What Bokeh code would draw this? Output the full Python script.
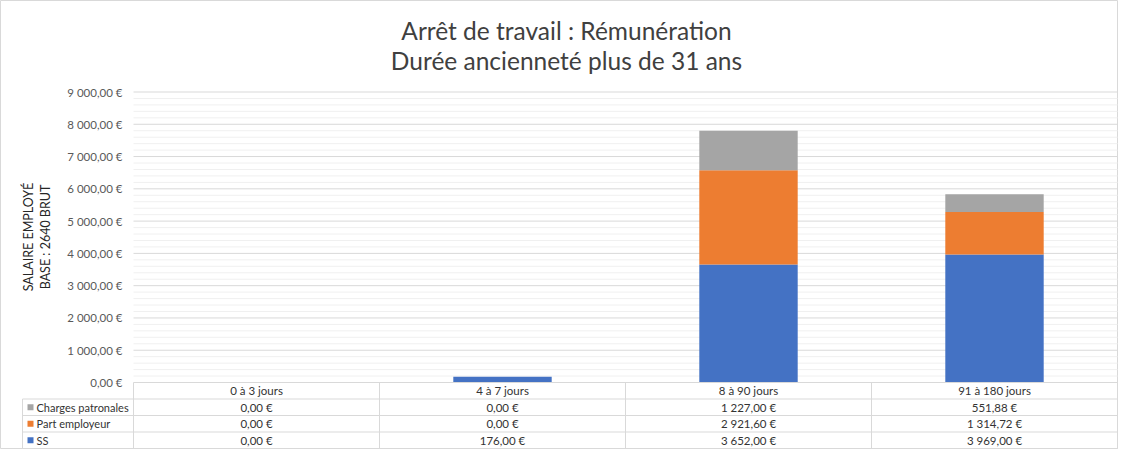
import math
from bokeh.plotting import figure
from bokeh.models import LinearAxis, FixedTicker, Range1d
from bokeh.core.properties import value
from bokeh.embed import file_html
from bokeh.resources import INLINE

# ---------------- data ----------------
categories = ["0 à 3 jours", "4 à 7 jours", "8 à 90 jours", "91 à 180 jours"]
ss = [0.00, 176.00, 3652.00, 3969.00]
part_employeur = [0.00, 0.00, 2921.60, 1314.72]
charges_patronales = [0.00, 0.00, 1227.00, 551.88]
series_names = ["SS", "Part employeur", "Charges patronales"]
series_colors = ["#4472C4", "#ED7D31", "#A5A5A5"]
y_ticks = [0, 1000, 2000, 3000, 4000, 5000, 6000, 7000, 8000, 9000]
y_tick_labels = ["0,00 €", "1 000,00 €", "2 000,00 €", "3 000,00 €", "4 000,00 €",
                 "5 000,00 €", "6 000,00 €", "7 000,00 €", "8 000,00 €", "9 000,00 €"]
minor_step = 200
title_lines = ["Arrêt de travail : Rémunération", "Durée ancienneté plus de 31 ans"]
y_title = "SALAIRE EMPLOYÉ\nBASE : 2640 BRUT"

FONT = "Lato"


def fr(v):
    return f"{v:,.2f}".replace(",", " ").replace(".", ",") + " €"


# ---------------- geometry ----------------
W, H = 1118, 449
col_px = 246.0          # width of one category column in px
x0_px = 133             # px position of the data x = 0 (plot area left)
k = 290.5 / 9000        # px per euro
zero_px = 382           # px from top of the value 0
bottom_px = H - zero_px
x_start = -x0_px / col_px
x_end = (W - x0_px) / col_px
y_start = -bottom_px / k
y_end = y_start + H / k
row = 16.5 / k
n = len(categories)
leg_left = -111 / col_px


def px_x(px):  # horizontal pixel offset from plot-area left -> data
    return px / col_px


def px_y(px):  # vertical pixel offset above the zero line -> data
    return px / k


p = figure(width=W, height=H, output_backend="svg", toolbar_location=None,
           x_range=Range1d(x_start, x_end), y_range=Range1d(y_start, y_end),
           x_axis_location=None, y_axis_location=None, title_location=None,
           min_border=0, min_border_left=0, min_border_right=0,
           min_border_top=0, min_border_bottom=0)
p.grid.visible = False
p.outline_line_color = "#D9D9D9"
p.background_fill_color = "white"
p.border_fill_color = "white"

# ---------------- grid lines ----------------
minor = [v for v in range(0, y_ticks[-1] + 1, minor_step) if v not in y_ticks]
p.segment(x0=[0] * len(minor), x1=[n] * len(minor), y0=minor, y1=minor,
          line_color="#F0F0F0", line_width=1)
p.segment(x0=[0] * (len(y_ticks) - 1), x1=[n] * (len(y_ticks) - 1),
          y0=y_ticks[1:], y1=y_ticks[1:], line_color="#D9D9D9", line_width=1)

# ---------------- stacked bars ----------------
xs = [i + 0.5 for i in range(n)]
src = dict(x=xs, cat=categories)
for name, vals in zip(series_names, [ss, part_employeur, charges_patronales]):
    src[name] = vals
p.vbar_stack(series_names, x="x", width=0.4, color=series_colors, source=src,
             line_color=None)

# ---------------- y axis ----------------
ax = LinearAxis(fixed_location=0,
                ticker=FixedTicker(ticks=y_ticks, minor_ticks=[]),
                major_label_overrides={t: l for t, l in zip(y_ticks, y_tick_labels)})
ax.axis_line_color = None
ax.major_tick_line_color = None
ax.minor_tick_line_color = None
ax.major_tick_out = 0
ax.major_tick_in = 0
ax.major_label_standoff = 11
ax.major_label_text_color = "#595959"
ax.major_label_text_font = FONT
ax.major_label_text_font_size = "11.5px"
p.add_layout(ax, "left")

# ---------------- data table ----------------
tl = "#D9D9D9"
hx0 = [0] + [leg_left] * 4
hx1 = [n] * 5
hy = [-row * i for i in range(5)]
p.segment(x0=hx0, x1=hx1, y0=hy, y1=hy, line_color=tl, line_width=1)
vx = [leg_left] + list(range(n + 1))
vy0 = [-row] + [0] * (n + 1)
vy1 = [-4 * row] * (n + 2)
p.segment(x0=vx, x1=vx, y0=vy0, y1=vy1, line_color=tl, line_width=1)

tc = "#333333"
FS = "11.5px"
p.text(x=xs, y=[-row / 2] * n, text=categories, text_align="center",
       text_baseline="middle", text_font=value(FONT), text_font_size=FS,
       text_color=tc)
table_rows = [("Charges patronales", charges_patronales, series_colors[2]),
              ("Part employeur", part_employeur, series_colors[1]),
              ("SS", ss, series_colors[0])]
for r, (name, vals, col) in enumerate(table_rows, start=1):
    yc = -row * (r + 0.5)
    p.text(x=xs, y=[yc] * n, text=[fr(v) for v in vals], text_align="center",
           text_baseline="middle", text_font=value(FONT), text_font_size=FS,
           text_color=tc)
    p.text(x=[-px_x(97)], y=[yc], text=[name], text_align="left",
           text_baseline="middle", text_font=value(FONT), text_font_size="11px",
           text_color=tc)
    p.scatter(x=[-px_x(103)], y=[yc], marker="square", size=6, color=col,
              line_color=None)

# ---------------- titles ----------------
p.text(x=[px_x(433)] * 2, y=[px_y(zero_px - 30), px_y(zero_px - 60)], text=title_lines,
       text_align="center", text_baseline="middle", text_font=value(FONT),
       text_font_size="24.5px", text_color="#404040")
p.text(x=[-px_x(96.5)], y=[px_y(zero_px - 236.5)], text=[y_title], angle=math.pi / 2,
       text_align="center", text_baseline="middle", text_font=value(FONT),
       text_font_size="12.5px", text_color="#262626", text_line_height=1.1)

open("out.html", "w").write(file_html(p, INLINE))
